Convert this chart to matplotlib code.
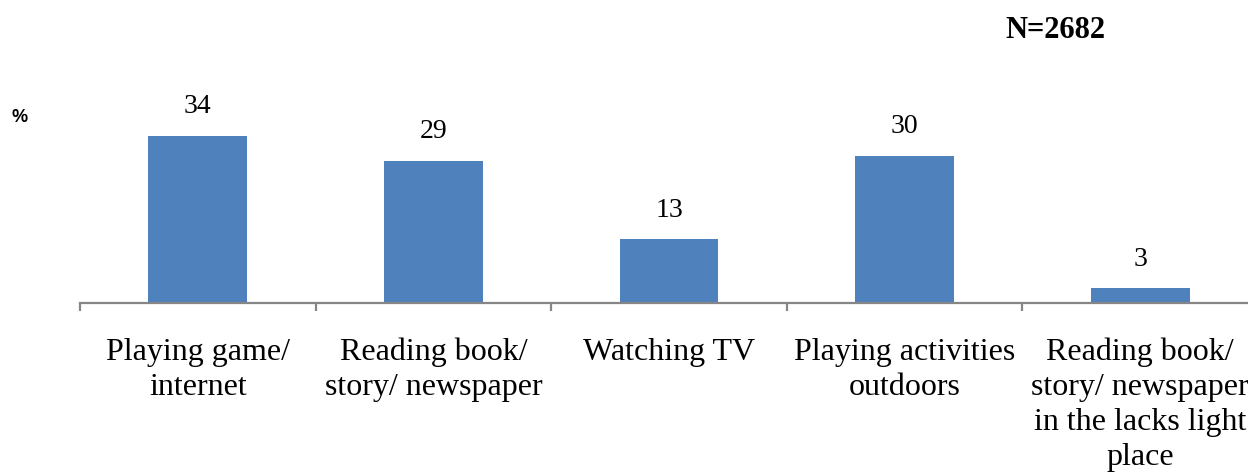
import numpy as np
import matplotlib.pyplot as plt

categories = [
    "Playing game/\ninternet",
    "Reading book/\nstory/ newspaper",
    "Watching TV",
    "Playing activities\noutdoors",
    "Reading book/\nstory/ newspaper\nin the lacks light\nplace",
]
values = [34, 29, 13, 30, 3]
sample_label = "N=2682"

plt.rcParams["font.family"] = ["Liberation Serif", "DejaVu Serif"]

fig = plt.figure(figsize=(12.48, 4.75), dpi=100)
# axis runs a bit past the right edge, like the original export
ax = fig.add_axes([80 / 1248, 172 / 475, 1178 / 1248, 200 / 475])

x = np.arange(len(values))
bars = ax.bar(x, values, width=0.42, color="#4F81BD", zorder=2)

for rect, v in zip(bars, values):
    ax.annotate(
        f"{v}",
        xy=(rect.get_x() + rect.get_width() / 2, rect.get_height()),
        textcoords="offset points",
        xytext=(0, 12),
        ha="center",
        va="bottom",
        fontsize=20,
    )

ax.set_xlim(-0.5, len(values) - 0.5)
ax.set_ylim(0, 200 / 4.91)

# ---- Axes
for side in ("top", "right", "left"):
    ax.spines[side].set_visible(False)
ax.spines["bottom"].set_color("#868686")
ax.spines["bottom"].set_linewidth(1.6)
ax.set_yticks([])

ax.set_xticks(x)
ax.set_xticklabels(categories, fontsize=23, linespacing=1.27, va="top")
ax.tick_params(axis="x", which="major", length=0, pad=25)
ax.set_xticks(np.arange(len(values)) - 0.5, minor=True)
ax.tick_params(axis="x", which="minor", length=6, width=1.6, color="#868686")

fig.text(12 / 1248, 1 - 118 / 475, "%", fontsize=13, fontweight="bold",
         family="Liberation Sans", va="center", ha="left")
fig.text(1005 / 1248, 1 - 30 / 475, sample_label, fontsize=22,
         fontweight="bold", va="center", ha="left")

fig.savefig("out.png", dpi=100)
